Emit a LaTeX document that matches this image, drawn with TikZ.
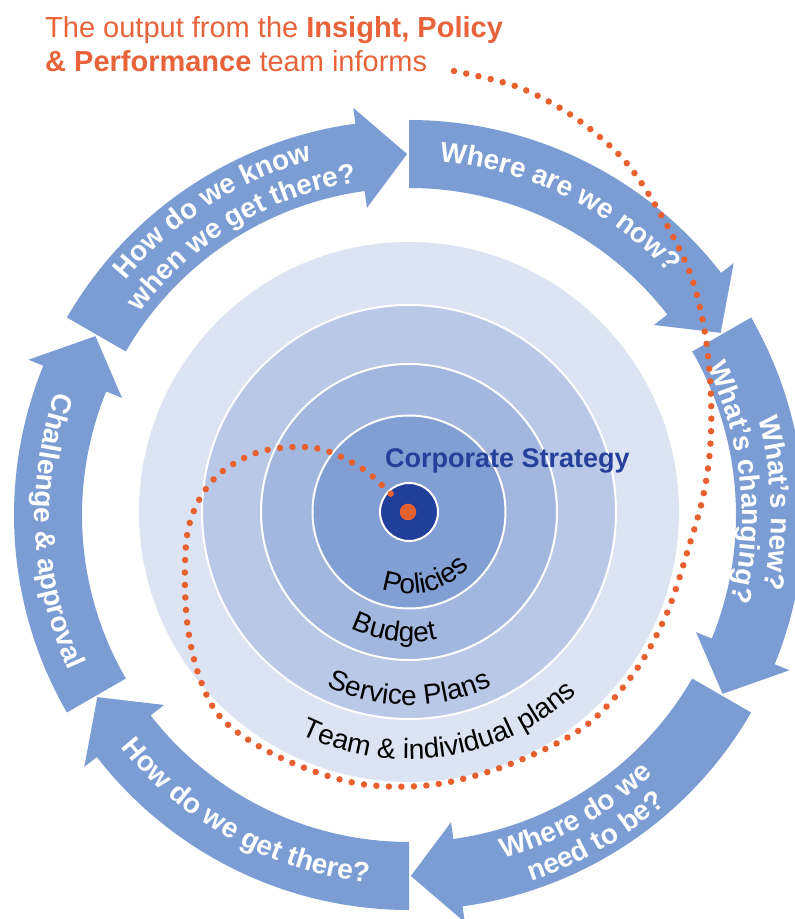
\documentclass[tikz,border=0pt]{standalone}
\usepackage{fontspec}
\setmainfont{Liberation Sans}
\usetikzlibrary{decorations.text}
\definecolor{arrowblue}{HTML}{7C9DD3}
\definecolor{ringA}{HTML}{DCE3F2}
\definecolor{ringB}{HTML}{B9C8E7}
\definecolor{ringC}{HTML}{A2B6DE}
\definecolor{ringD}{HTML}{829FD4}
\definecolor{coreblue}{HTML}{213E9A}
\definecolor{dotorange}{HTML}{E9602F}
\definecolor{titleorange}{HTML}{E8633A}
\definecolor{corptext}{HTML}{24409B}
\newcommand\arrowfont{\bfseries\fontsize{28}{30}\selectfont}
\newcommand\ringfont{\fontsize{28}{30}\selectfont}
\newcommand\cycarrow[1]{%
  \fill[arrowblue] ([shift={(Ca)}]#1:395pt) arc[start angle=#1, end angle=#1-52.2, radius=395pt]
    -- ([shift={(Ca)}]#1-52.2:411pt) -- ([shift={(Ca)}]#1-59.7:361pt)
    -- ([shift={(Ca)}]#1-52.2:310pt) -- ([shift={(Ca)}]#1-52.2:327pt)
    arc[start angle=#1-52.2, end angle=#1, radius=327pt] -- cycle;}
\begin{document}
\begin{tikzpicture}[x=1pt,y=1pt,
  arrowtext/.style={decorate, decoration={text along path, text align=center, text color=white, text={|\arrowfont|#1}}},
  ringtext/.style={decorate, decoration={text along path, text align=center, text color=black, text={|\ringfont|#1}}},
  ringdisc/.style={draw=white, line width=2pt},
  titletext/.style={text=titleorange, font=\fontsize{29}{34}\selectfont, inner sep=0pt, anchor=base west},
  dots/.style={dotorange, line width=6.5pt, line cap=round, dash pattern=on 0pt off 12.5pt}]
\useasboundingbox (0,0) rectangle (795,919);
\clip (0,0) rectangle (795,919);
\fill[white] (0,0) rectangle (795,919);
\coordinate (Ca) at (409,404);
\coordinate (Cc) at (409,407);

% cycle arrows (tail angle, clockwise 60 degrees)
\cycarrow{90}
\cycarrow{30}
\cycarrow{-30}
\cycarrow{-90}
\cycarrow{-150}
\cycarrow{150}

% arrow labels
\path[arrowtext={Where are we now?}] ([shift={(Ca)}]114:355pt) arc[start angle=114, end angle=14, radius=355pt];
\path[arrowtext={How do we know}] ([shift={(Ca)}]172.8:368pt) arc[start angle=172.8, end angle=72.8, radius=368pt];
\path[arrowtext={when we get there?}] ([shift={(Ca)}]171:337pt) arc[start angle=171, end angle=71, radius=337pt];
\path[arrowtext={What's new?}] ([shift={(Ca)}]51.9:362pt) arc[start angle=51.9, end angle=-48.1, radius=362pt];
\path[arrowtext={What's changing?}] ([shift={(Ca)}]55.8:333pt) arc[start angle=55.8, end angle=-44.2, radius=333pt];
\path[arrowtext={Where do we}] ([shift={(Ca)}]-110.7:356pt) arc[start angle=-110.7, end angle=-10.7, radius=356pt];
\path[arrowtext={need to be?}] ([shift={(Ca)}]-109.9:386pt) arc[start angle=-109.9, end angle=-9.9, radius=386pt];
\path[arrowtext={How do we get there?}] ([shift={(Ca)}]-168.7:370pt) arc[start angle=-168.7, end angle=-68.7, radius=370pt];
\path[arrowtext={Challenge {\&} approval}] ([shift={(Ca)}]132.7:374pt) arc[start angle=132.7, end angle=232.7, radius=374pt];

% concentric discs
\fill[ringA] (Cc) circle[radius=270pt];
\draw[ringdisc, fill=ringB] (Cc) circle[radius=207pt];
\draw[ringdisc, fill=ringC] (Cc) circle[radius=148pt];
\draw[ringdisc, fill=ringD] (Cc) circle[radius=96.5pt];

% ring labels
\path[ringtext={Policies}] ([shift={(Cc)}]-136:82pt) arc[start angle=-136, end angle=-16, radius=82pt];
\path[ringtext={Budget}] ([shift={(Cc)}]-157:130pt) arc[start angle=-157, end angle=-37, radius=130pt];
\path[ringtext={Service Plans}] ([shift={(Cc)}]-150:193pt) arc[start angle=-150, end angle=-30, radius=193pt];
\path[ringtext={Team {\&} individual plans}] ([shift={(Cc)}]-141.5:247pt) arc[start angle=-141.5, end angle=-21.5, radius=247pt];

\node[anchor=base west, inner sep=0pt, text=corptext, font=\bfseries\fontsize{27}{30}\selectfont] (corp) at (385,451) {Corporate Strategy};

\node[circle, fill=coreblue, draw=white, line width=2pt, minimum size=58pt, inner sep=0pt] (centre) at (Cc) {};

% title
\node[titletext] (title1) at (45,881) {The output from the \textbf{Insight, Policy}};
\node[titletext] (title2) at (45,847) {\textbf{\& Performance} team informs};

% dotted spiral
\coordinate (spiralstart) at (454,848);
\coordinate (spiralend) at (398,418);
\draw[dots] plot[smooth, tension=0.55] coordinates {(spiralstart) (518,832) (574,802) (624,759) (660,706) (690,646) (705,586) (711,522) (710,469) (703,422) (690,376) (667,306) (634,246) (584,192) (508,154) (431,134) (355,136) (279,162) (223,199) (198,246) (186,309) (188,389) (213,439) (259,467) (315,471) (360,452) (390,426) (spiralend)};
\node[circle, fill=dotorange, minimum size=16.6pt, inner sep=0pt] (core) at (408,407) {};
\end{tikzpicture}
\end{document}
